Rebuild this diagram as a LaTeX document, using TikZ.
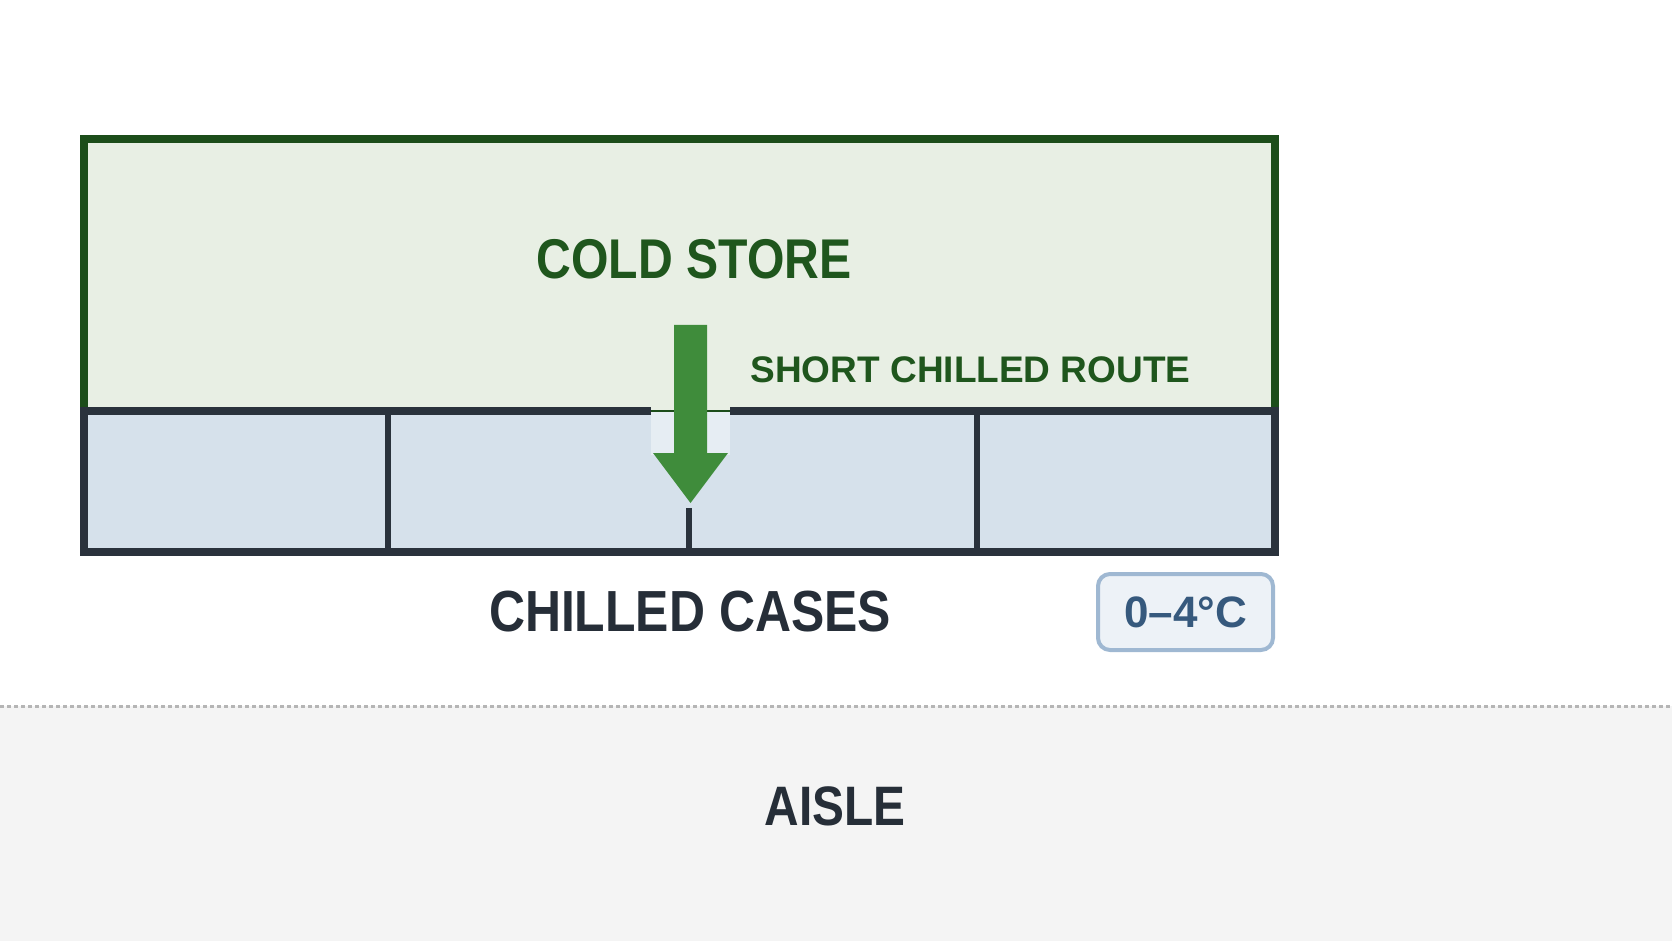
\documentclass[tikz,border=0pt]{standalone}
\usepackage{fontspec}
\setmainfont{Liberation Sans}
\newfontfamily\narrowfont[FakeStretch=0.86]{Liberation Sans}
\usepackage{tikz}

\definecolor{storefill}{HTML}{E8EFE4}
\definecolor{storeline}{HTML}{1C4D1A}
\definecolor{storetext}{HTML}{1F561D}
\definecolor{casefill}{HTML}{D6E1EB}
\definecolor{doorfill}{HTML}{E6EDF3}
\definecolor{caseline}{HTML}{2A323C}
\definecolor{casetext}{HTML}{262E38}
\definecolor{routegreen}{HTML}{3F8C3B}
\definecolor{aislefill}{HTML}{F4F4F4}
\definecolor{aisledots}{HTML}{B5B5B5}
\definecolor{tagfill}{HTML}{EDF2F7}
\definecolor{tagline}{HTML}{9FB8D2}
\definecolor{tagtext}{HTML}{36597D}

\tikzset{
  bigtext/.style={inner sep=0pt,font=\narrowfont\bfseries},
  tagbox/.style={draw=tagline,fill=tagfill,line width=2pt,rounded corners=6pt,
    minimum width=87.5pt,minimum height=38pt,inner sep=0pt,
    text=tagtext,font=\bfseries\fontsize{22}{24}\selectfont}
}

\begin{document}
\begin{tikzpicture}[x=0.5pt,y=-0.5pt]
      \useasboundingbox (0,0) rectangle (1672,941);

      % aisle strip
      \fill[aislefill] (0,706) rectangle (1672,941);
      \draw[aisledots,line width=1.5pt,dash pattern=on 2pt off 1.5pt] (0,706) -- (1672,706);

      % cold store and cases
      \fill[storefill] (84,139) rectangle (1275,411);
      \fill[casefill] (84,411) rectangle (1275,552);
      \fill[doorfill] (651,411) rectangle (730,455);
      \draw[storeline,line width=1.2pt] (651,411) -- (730,411);
      \draw[storeline,line width=4pt] (84,413) -- (84,139) -- (1275,139) -- (1275,413);
      \draw[caseline,line width=4pt] (84,411) -- (84,552) -- (1275,552) -- (1275,411);
      \draw[caseline,line width=4pt] (80,411) -- (651,411);
      \draw[caseline,line width=4pt] (730,411) -- (1279,411);
      \draw[caseline,line width=3pt] (388,411) -- (388,552);
      \draw[caseline,line width=3pt] (689,508) -- (689,552);
      \draw[caseline,line width=3pt] (977,411) -- (977,552);

      % route arrow
      \fill[routegreen] (674,325) -- (707,325) -- (707,453) -- (728,453)
        -- (690.5,503) -- (653,453) -- (674,453) -- cycle;

      \node[bigtext,text=storetext,font=\narrowfont\bfseries\fontsize{28}{30}\selectfont] (store) at (694,259) {COLD STORE};
      \node[inner sep=0pt,text=storetext,font=\bfseries\fontsize{18.5}{20}\selectfont] (route) at (970.5,370) {SHORT CHILLED ROUTE};
      \node[bigtext,text=casetext,font=\narrowfont\bfseries\fontsize{29}{31}\selectfont] (cases) at (690,612) {CHILLED CASES};
      \node[tagbox] (temp) at (1185.5,612) {0–4°C};
      \node[bigtext,text=casetext,font=\narrowfont\bfseries\fontsize{27.8}{30}\selectfont] (aisle) at (835,806) {AISLE};
    \end{tikzpicture}
\end{document}
